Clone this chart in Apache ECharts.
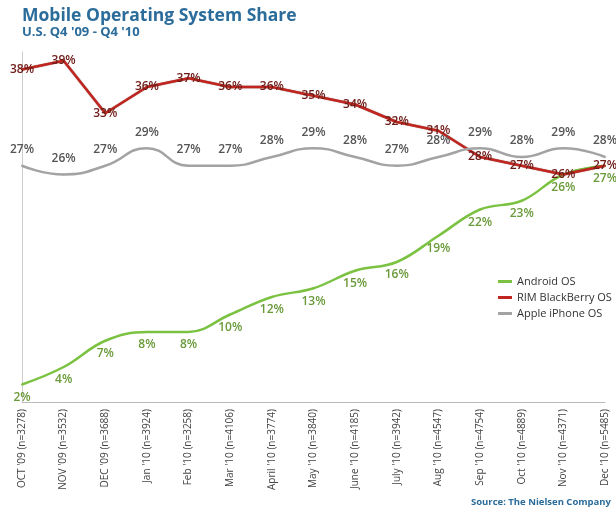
<!DOCTYPE html>
<html><head><meta charset="utf-8">
<script src="https://cdn.jsdelivr.net/npm/echarts@6/dist/echarts.min.js"></script>
<style>html,body{margin:0;padding:0;background:#fff}#c{width:616px;height:510px}</style>
</head><body><div id="c"></div>
<script>
var categories = ["OCT '09 (n=3278)","NOV '09 (n=3532)","DEC '09 (n=3688)","Jan '10 (n=3924)","Feb '10 (n=3258)","Mar '10 (n=4106)","April '10 (n=3774)","May '10 (n=3840)","June '10 (n=4185)","July '10 (n=3942)","Aug '10 (n=4547)","Sep '10 (n=4754)","Oct '10 (n=4889)","Nov '10 (n=4371)","Dec '10 (n=5485)"];
var android = [2,4,7,8,8,10,12,13,15,16,19,22,23,26,27];
var rim = [38,39,33,36,37,36,36,35,34,32,31,28,27,26,27];
var apple = [27,26,27,29,27,27,28,29,28,27,28,29,28,29,28];
var seriesNames = ["Android OS","RIM BlackBerry OS","Apple iPhone OS"];

var FONT = "Open Sans";
var chart = echarts.init(document.getElementById('c'));
chart.setOption({
  animation:false,
  backgroundColor:'#fff',
  title:[
    {text:'Mobile Operating System Share', left:17, top:2, textStyle:{fontFamily:FONT, fontSize:17.5, fontWeight:'bold', color:'#2b6c9b'}},
    {text:"U.S. Q4 '09 - Q4 '10", left:17, top:21, textStyle:{fontFamily:FONT, fontSize:13, fontWeight:'bold', color:'#2b6c9b'}},
    {text:'Source: The Nielsen Company', right:0, bottom:-2, textStyle:{fontFamily:FONT, fontSize:9.5, fontWeight:'bold', color:'#2b6c9b'}}
  ],
  legend:{
    orient:'vertical', left:493, top:271, itemWidth:14, itemHeight:3, itemGap:5,
    icon:'rect',
    textStyle:{fontFamily:FONT, fontSize:11, color:'#333'},
    data:seriesNames
  },
  grid:{left:22, right:11, top:52, bottom:108},
  xAxis:{
    type:'category', data:categories, boundaryGap:false,
    axisLine:{lineStyle:{color:'#bbb', width:1}},
    axisTick:{show:false},
    axisLabel:{rotate:90, fontFamily:FONT, fontSize:10, color:'#444', margin:7, interval:0}
  },
  yAxis:{
    type:'value', min:0, max:40,
    axisLine:{show:true, lineStyle:{color:'#ccc'}},
    axisTick:{show:false}, axisLabel:{show:false}, splitLine:{show:false}
  },
  series:[
    {name:seriesNames[0], type:'line', data:android, smooth:0.4, symbol:'circle', symbolSize:2, showSymbol:true,
     lineStyle:{color:'#7cc242', width:2.5}, itemStyle:{color:'#7cc242'},
     labelLayout:{hideOverlap:false},
     label:{show:true, position:'bottom', distance:6, offset:[3,0], formatter:'{c}%', fontFamily:FONT, fontSize:12, fontWeight:600, color:'#6a9a3a'}},
    {name:seriesNames[1], type:'line', data:rim, smooth:false, symbol:'circle', symbolSize:2, showSymbol:true,
     lineStyle:{color:'#c0261f', width:2.5, shadowColor:'rgba(80,0,0,0.6)', shadowBlur:1}, itemStyle:{color:'#c0261f'},
     labelLayout:{hideOverlap:false},
     label:{show:true, position:'inside', formatter:'{c}%', fontFamily:FONT, fontSize:12, fontWeight:600, color:'#6e1c18'}},
    {name:seriesNames[2], type:'line', data:apple, smooth:0.5, symbol:'circle', symbolSize:2, showSymbol:true,
     lineStyle:{color:'#a3a3a3', width:2.5}, itemStyle:{color:'#a3a3a3'},
     labelLayout:{hideOverlap:false},
     label:{show:true, position:'top', distance:9, formatter:'{c}%', fontFamily:FONT, fontSize:12, fontWeight:600, color:'#555'}}
  ]
});
</script></body></html>
